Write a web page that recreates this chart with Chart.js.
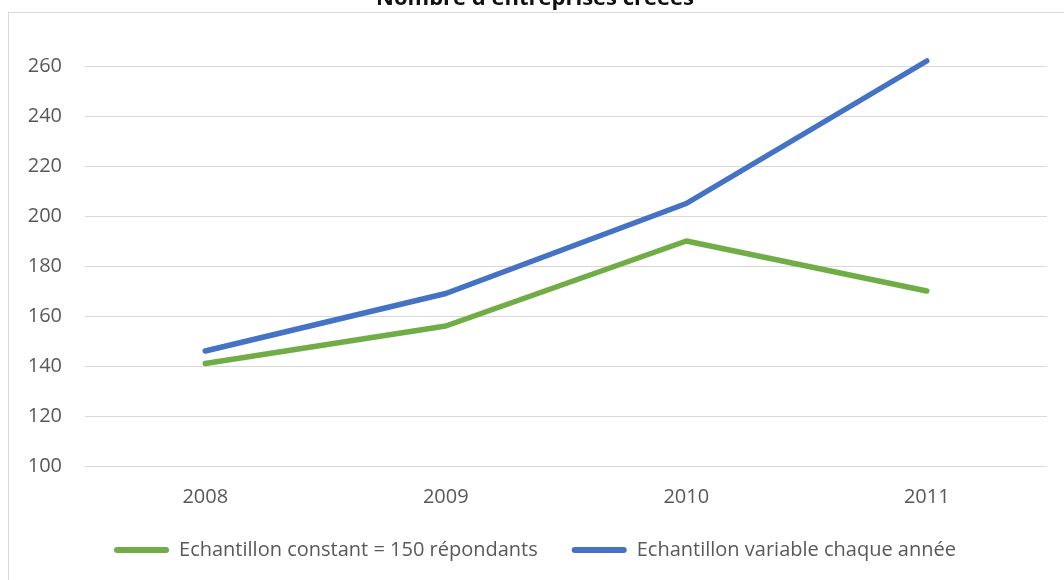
<!DOCTYPE html>
<html lang="fr">
<head>
  <meta charset="UTF-8" />
  <title>Nombre d'entreprises créées</title>
  <style>
    body {
      margin: 0;
      background: #fff;
    }
    .page {
      position: relative;
      width: 1064px;
      height: 580px;
      overflow: hidden;
    }
    .frame {
      position: absolute;
      left: 8px;
      top: 12px;
      width: 1100px;
      height: 620px;
      border-left: 1px solid #d9d9d9;
      border-top: 1px solid #d9d9d9;
    }
    .wrap {
      position: absolute;
      left: 0;
      top: -30px;
      width: 1084px;
      height: 600px;
    }
  </style>
</head>
<body>
  <div class="page">
    <div class="frame"></div>
    <div class="wrap"><canvas id="chart"></canvas></div>
  </div>

  <script src="https://cdn.jsdelivr.net/npm/chart.js"></script>
  <script>
    const years = ['2008', '2009', '2010', '2011'];
    const constantSample = [141, 156, 190, 170];
    const variableSample = [146, 169, 205, 262];
    const seriesNames = ['Echantillon constant = 150 répondants', 'Echantillon variable chaque année'];
    const yTicks = [100, 120, 140, 160, 180, 200, 220, 240, 260];

    const textColor = '#595959';
    const gridColor = '#d9d9d9';
    const fontFamily = "'Open Sans', 'Noto Sans', sans-serif";

    new Chart(document.getElementById('chart'), {
      type: 'line',
      data: {
        labels: years,
        datasets: [{
          label: seriesNames[0],
          data: constantSample,
          borderColor: '#70ad47',
          backgroundColor: '#70ad47'
        }, {
          label: seriesNames[1],
          data: variableSample,
          borderColor: '#4472c4',
          backgroundColor: '#4472c4'
        }]
      },
      options: {
        responsive: true,
        maintainAspectRatio: false,
        animation: false,
        layout: { padding: { left: 0, right: 14, top: 0, bottom: 0 } },
        elements: {
          line: { borderWidth: 5.5, tension: 0, borderCapStyle: 'round', borderJoinStyle: 'round' },
          point: { radius: 0, hoverRadius: 0 }
        },
        datasets: { line: { clip: false } },
        scales: {
          x: {
            offset: true,
            grid: { display: false },
            border: { display: false },
            ticks: { color: textColor, font: { family: fontFamily, size: 20 }, padding: 11 },
            afterFit: s => { s.height = 40; }
          },
          y: {
            min: yTicks[0],
            max: yTicks[yTicks.length - 1],
            afterBuildTicks: s => { s.ticks = yTicks.map(v => ({ value: v })); },
            grid: { color: gridColor, lineWidth: 1, drawTicks: false },
            border: { display: false },
            ticks: { color: textColor, font: { family: fontFamily, size: 20 }, padding: 23 },
            afterFit: s => { s.width = 85; }
          },
          y2: {
            type: 'linear',
            position: 'right',
            grid: { display: false },
            border: { display: false },
            ticks: { display: false },
            afterFit: s => { s.width = 23; }
          }
        },
        plugins: {
          title: {
            display: true,
            text: "Nombre d'entreprises créées",
            color: '#111',
            font: { family: fontFamily, size: 22, weight: 'bold' },
            padding: { top: 16, bottom: 53.6 }
          },
          legend: {
            position: 'bottom',
            labels: {
              color: textColor,
              font: { family: fontFamily, size: 20 },
              boxWidth: 55,
              boxHeight: 6,
              useBorderRadius: true,
              borderRadius: 3,
              padding: 34,
              generateLabels: chart =>
                Chart.defaults.plugins.legend.labels.generateLabels(chart)
                  .map(item => ({ ...item, lineWidth: 0 }))
            }
          },
          tooltip: { enabled: false }
        }
      }
    });
  </script>
</body>
</html>
